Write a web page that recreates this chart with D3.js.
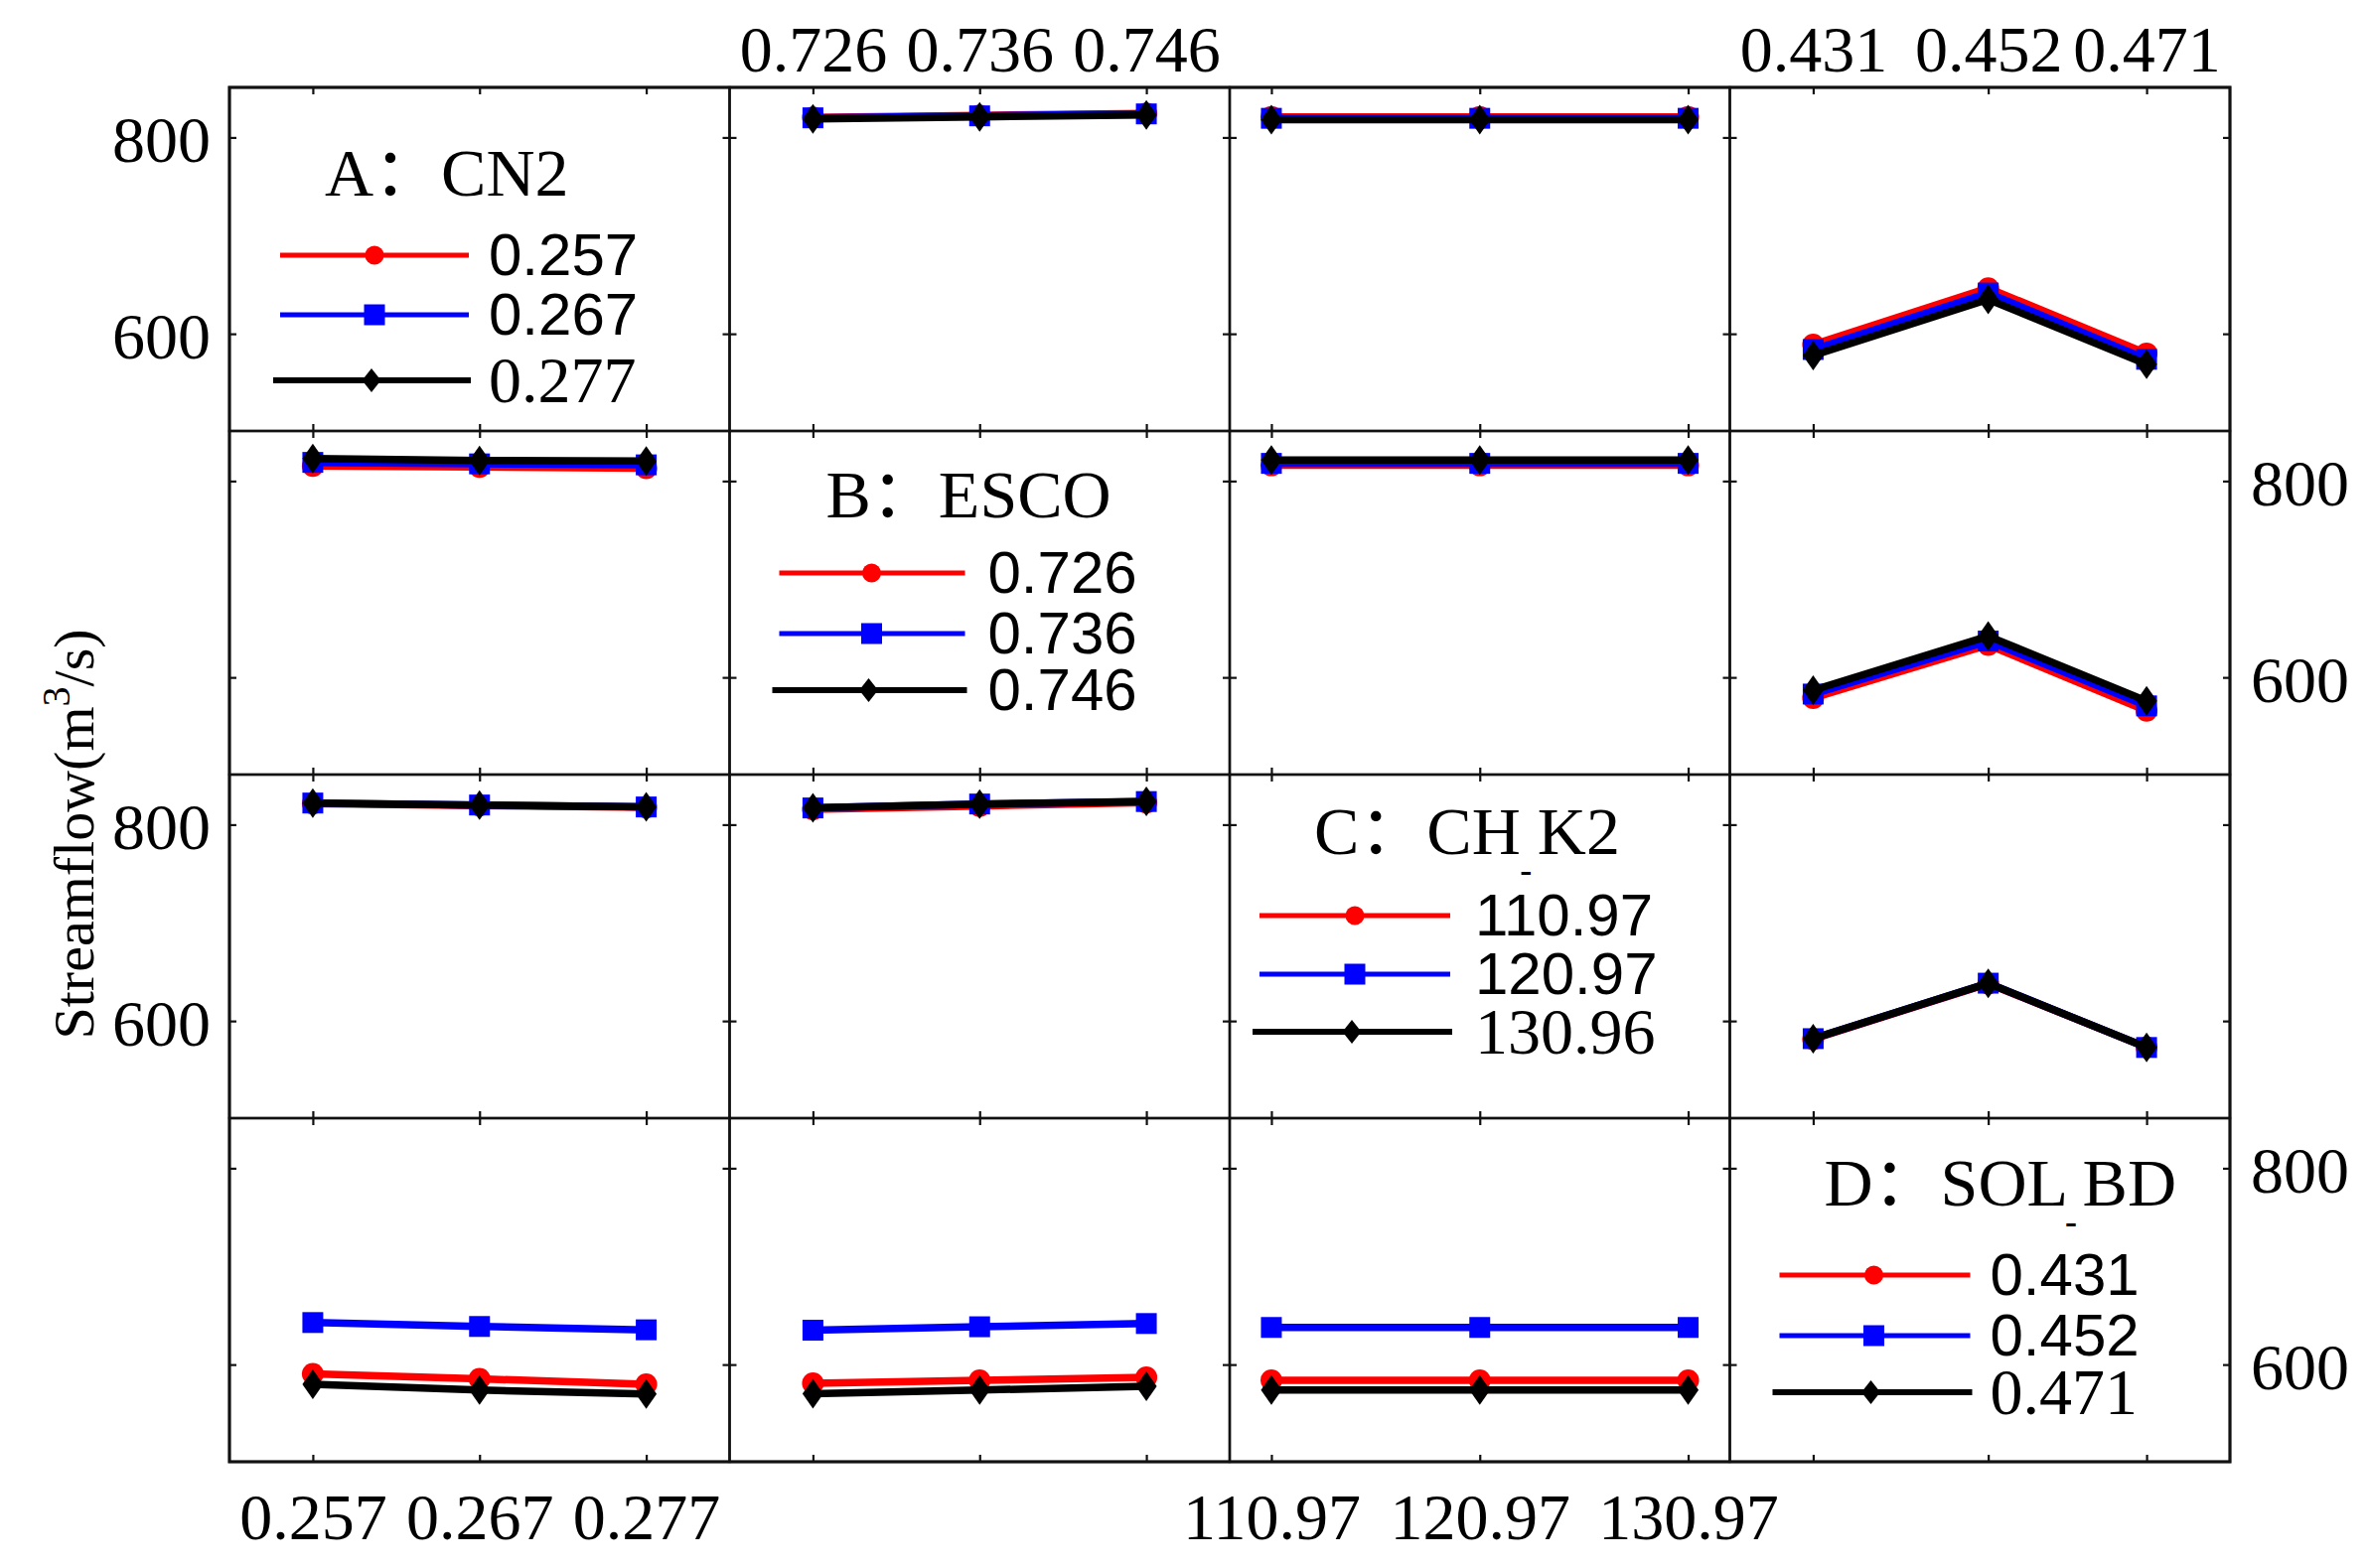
<!DOCTYPE html>
<html><head><meta charset="utf-8">
<script src="https://cdn.jsdelivr.net/npm/d3@7"></script>
<style>html,body{margin:0;padding:0;background:#fff;} svg{display:block;}</style>
</head><body>
<svg id="chart" width="2386" height="1579"></svg>
<script>
// ---------------- DATA ----------------
const paramNames = ["CN2", "ESCO", "CH_K2", "SOL_BD"];
const panelTitles = ["A：CN2", "B：ESCO", "C：CH K2", "D：SOL BD"];
const xLevels = [
  [0.257, 0.267, 0.277],
  [0.726, 0.736, 0.746],
  [110.97, 120.97, 130.97],
  [0.431, 0.452, 0.471]
];
const xTickLabels = [
  ["0.257", "0.267", "0.277"],
  ["0.726", "0.736", "0.746"],
  ["110.97", "120.97", "130.97"],
  ["0.431", "0.452", "0.471"]
];
const legendLabels = [
  ["0.257", "0.267", "0.277"],
  ["0.726", "0.736", "0.746"],
  ["110.97", "120.97", "130.96"],
  ["0.431", "0.452", "0.471"]
];
const yTicks = [600, 800];
const yTickLabels = ["600", "800"];

// Streamflow (m3/s): row parameter = series (red, blue, black), column parameter = x axis
const flow_CN2_ESCO   = [[820.5, 822.5, 824.5], [820, 822, 824], [819, 821, 823]];
const flow_CN2_CHK2   = [[821, 821, 821], [819.5, 819.5, 819.5], [818, 818, 818]];
const flow_CN2_SOLBD  = [[589, 646.5, 580], [584, 641.5, 574], [578, 635, 569]];
const flow_ESCO_CN2   = [[815.4, 814.4, 813], [819, 817.5, 816.5], [823, 821, 820.5]];
const flow_ESCO_CHK2  = [[816, 816, 816], [818, 818, 818], [821.5, 821.5, 821.5]];
const flow_ESCO_SOLBD = [[579, 633, 566], [583, 637, 571], [587, 642, 576]];
const flow_CHK2_CN2   = [[821.5, 819.5, 817.5], [822, 820, 818], [822, 820, 818]];
const flow_CHK2_ESCO  = [[815.5, 819, 822.5], [817, 821, 823.5], [817, 821, 823.6]];
const flow_CHK2_SOLBD = [[581.5, 638, 573], [582, 638.5, 573], [582, 638.4, 573]];
const flow_SOLBD_CN2  = [[590.6, 585.5, 579.8], [642.8, 638.8, 635.4], [580, 574, 570]];
const flow_SOLBD_ESCO = [[581, 584, 587], [635, 638.5, 641.8], [570.3, 574, 578]];
const flow_SOLBD_CHK2 = [[584, 584, 584], [637.8, 637.8, 637.8], [574, 574, 574]];

const flowTable = [
  [null, flow_CN2_ESCO, flow_CN2_CHK2, flow_CN2_SOLBD],
  [flow_ESCO_CN2, null, flow_ESCO_CHK2, flow_ESCO_SOLBD],
  [flow_CHK2_CN2, flow_CHK2_ESCO, null, flow_CHK2_SOLBD],
  [flow_SOLBD_CN2, flow_SOLBD_ESCO, flow_SOLBD_CHK2, null]
];

// ---------------- STYLE / LAYOUT ----------------
const W = 2386, H = 1579;
const gridLeft = 231, gridRight = 2245, gridTop = 88, gridBottom = 1472;
const colW = (gridRight - gridLeft) / 4, rowH = (gridBottom - gridTop) / 4;
const xPadFrac = [0.25, 0.25, 0.1, 0.25];
const yDomain = [501, 851];
const colors = ["#ff0000", "#0000ff", "#000000"];
const shapes = ["circle", "square", "diamond"];
const SERIF = "'Liberation Serif','Times New Roman','Noto Sans CJK SC',serif";
const SANS = "'Liberation Sans',Arial,sans-serif";
const FS = 66;

const legendLayout = [
  {tx: 96, ty: 109, ly: [169, 229, 295], lx0: 51, lx1: 241, mx: 146, txt: 261, serifThird: true},
  {tx: 97, ty: 87,  ly: [143, 204, 261], lx0: 50, lx1: 237, mx: 143, txt: 260, serifThird: false},
  {tx: 85, ty: 80,  ly: [142, 201, 259], lx0: 30, lx1: 222, mx: 126, txt: 247, serifThird: true},
  {tx: 95, ty: 88,  ly: [158, 219, 276], lx0: 50, lx1: 242, mx: 145, txt: 262, serifThird: true}
];

const svg = d3.select("#chart");
svg.append("rect").attr("width", W).attr("height", H).attr("fill", "#fff");

function markerPath(shape, s) {
  const p = d3.path();
  if (shape === "circle") {
    p.moveTo(s.r, 0); p.arc(0, 0, s.r, 0, 2 * Math.PI); p.closePath();
  } else if (shape === "square") {
    const h = s.sq / 2; p.rect(-h, -h, s.sq, s.sq);
  } else {
    const w = s.dw / 2, h = s.dh / 2;
    p.moveTo(0, -h); p.lineTo(w, 0); p.lineTo(0, h); p.lineTo(-w, 0); p.closePath();
  }
  return p.toString();
}
const panelMarker = {r: 11, sq: 21, dw: 21, dh: 30};
const legendMarker = {r: 9.5, sq: 21, dw: 19, dh: 24};

function xScaleFor(j) {
  const lv = xLevels[j];
  const span = lv[lv.length - 1] - lv[0];
  return d3.scaleLinear()
    .domain([lv[0] - xPadFrac[j] * span, lv[lv.length - 1] + xPadFrac[j] * span])
    .range([0, colW]);
}
const y = d3.scaleLinear().domain(yDomain).range([rowH, 0]);

function styleAxis(g) {
  g.select(".domain").remove();
  g.selectAll(".tick line").attr("stroke", "#111").attr("stroke-width", 2.2);
  g.selectAll("text").attr("font-family", SERIF).attr("font-size", FS).attr("fill", "#000");
}

for (let i = 0; i < 4; i++) {
  for (let j = 0; j < 4; j++) {
    const g = svg.append("g").attr("transform", `translate(${gridLeft + j * colW},${gridTop + i * rowH})`);
    const x = xScaleFor(j);

    // inward ticks on all four sides
    g.append("g").call(d3.axisTop(x).tickValues(xLevels[j]).tickSize(-7).tickFormat("")).call(styleAxis);
    g.append("g").attr("transform", `translate(0,${rowH})`)
      .call(d3.axisBottom(x).tickValues(xLevels[j]).tickSize(-7).tickFormat("")).call(styleAxis);
    g.append("g").call(d3.axisLeft(y).tickValues(yTicks).tickSize(-7).tickFormat("")).call(styleAxis);
    g.append("g").attr("transform", `translate(${colW},0)`)
      .call(d3.axisRight(y).tickValues(yTicks).tickSize(-7).tickFormat("")).call(styleAxis);

    // frame
    g.append("rect").attr("x", 0).attr("y", 0).attr("width", colW).attr("height", rowH)
      .attr("fill", "none").attr("stroke", "#111").attr("stroke-width", 2.4);

    // tick labels (alternating sides)
    if (i === 0 && (j === 1 || j === 3)) {
      const ax = g.append("g").call(d3.axisTop(x).tickValues(xLevels[j]).tickSize(0).tickPadding(16)
        .tickFormat((d, k) => xTickLabels[j][k]));
      styleAxis(ax);
    }
    if (i === 3 && (j === 0 || j === 2)) {
      const ax = g.append("g").attr("transform", `translate(0,${rowH})`)
        .call(d3.axisBottom(x).tickValues(xLevels[j]).tickSize(0).tickPadding(0)
        .tickFormat((d, k) => xTickLabels[j][k]));
      styleAxis(ax);
      ax.selectAll("text").attr("y", 78).attr("dy", "0");
    }
    if (j === 0 && (i === 0 || i === 2)) {
      const ax = g.append("g").call(d3.axisLeft(y).tickValues(yTicks).tickSize(0).tickPadding(19)
        .tickFormat((d, k) => yTickLabels[k]));
      styleAxis(ax);
      ax.selectAll("text").attr("dy", "0").attr("y", 24);
    }
    if (j === 3 && (i === 1 || i === 3)) {
      const ax = g.append("g").attr("transform", `translate(${colW},0)`)
        .call(d3.axisRight(y).tickValues(yTicks).tickSize(0).tickPadding(21)
        .tickFormat((d, k) => yTickLabels[k]));
      styleAxis(ax);
      ax.selectAll("text").attr("dy", "0").attr("y", 24);
    }

    if (i === j) {
      // legend panel
      const L = legendLayout[i];
      const title = g.append("text").attr("x", L.tx).attr("y", L.ty)
        .attr("font-family", SERIF).attr("font-size", 68).attr("fill", "#000")
        .text(panelTitles[i]);
      const sp = panelTitles[i].indexOf(" ");
      if (sp > 0) {
        const node = title.node();
        const pre = node.getSubStringLength(0, sp);
        const spw = node.getSubStringLength(sp, 1);
        g.append("text").attr("x", L.tx + pre + spw / 2 - 3).attr("y", L.ty + 28)
          .attr("text-anchor", "middle").attr("font-family", SERIF).attr("font-size", 36)
          .attr("font-weight", "bold").text("-");
      }
      for (let s = 0; s < 3; s++) {
        const extra = s === 2 ? 7 : 0;
        const mxs = s === 2 ? L.mx - 3 : L.mx;
        g.append("line").attr("x1", L.lx0 - extra).attr("x2", L.lx1 + (s === 2 ? 2 : 0))
          .attr("y1", L.ly[s]).attr("y2", L.ly[s])
          .attr("stroke", colors[s]).attr("stroke-width", s === 2 ? 6 : 5);
        g.append("path").attr("d", markerPath(shapes[s], legendMarker))
          .attr("transform", `translate(${mxs},${L.ly[s]})`).attr("fill", colors[s]);
        const serif = s === 2 && L.serifThird;
        g.append("text").attr("x", L.txt).attr("y", L.ly[s] + (serif ? 22 : 20))
          .attr("font-family", serif ? SERIF : SANS).attr("font-size", serif ? 66 : 60)
          .attr("fill", "#000").text(legendLabels[i][s]);
      }
      continue;
    }

    const data = flowTable[i][j];
    const line = d3.line().x((d, k) => x(xLevels[j][k])).y(d => y(d));
    data.forEach((series, s) => {
      g.append("path").attr("d", line(series)).attr("fill", "none")
        .attr("stroke", colors[s]).attr("stroke-width", 7.5).attr("stroke-linejoin", "round");
      g.selectAll(null).data(series).enter().append("path")
        .attr("d", markerPath(shapes[s], panelMarker))
        .attr("transform", (d, k) => `translate(${x(xLevels[j][k])},${y(d)})`)
        .attr("fill", colors[s]);
    });
  }
}

// outer frame
svg.append("rect").attr("x", gridLeft).attr("y", gridTop)
  .attr("width", gridRight - gridLeft).attr("height", gridBottom - gridTop)
  .attr("fill", "none").attr("stroke", "#111").attr("stroke-width", 3);

// y-axis title
const yt = svg.append("text").attr("transform", "translate(94,840) rotate(-90)")
  .attr("text-anchor", "middle").attr("font-family", SERIF).attr("font-size", 58).attr("fill", "#000");
yt.append("tspan").text("Streamflow(m");
yt.append("tspan").attr("font-size", 40).attr("dy", -24).text("3");
yt.append("tspan").attr("dy", 24).text("/s)");
</script>
</body></html>
